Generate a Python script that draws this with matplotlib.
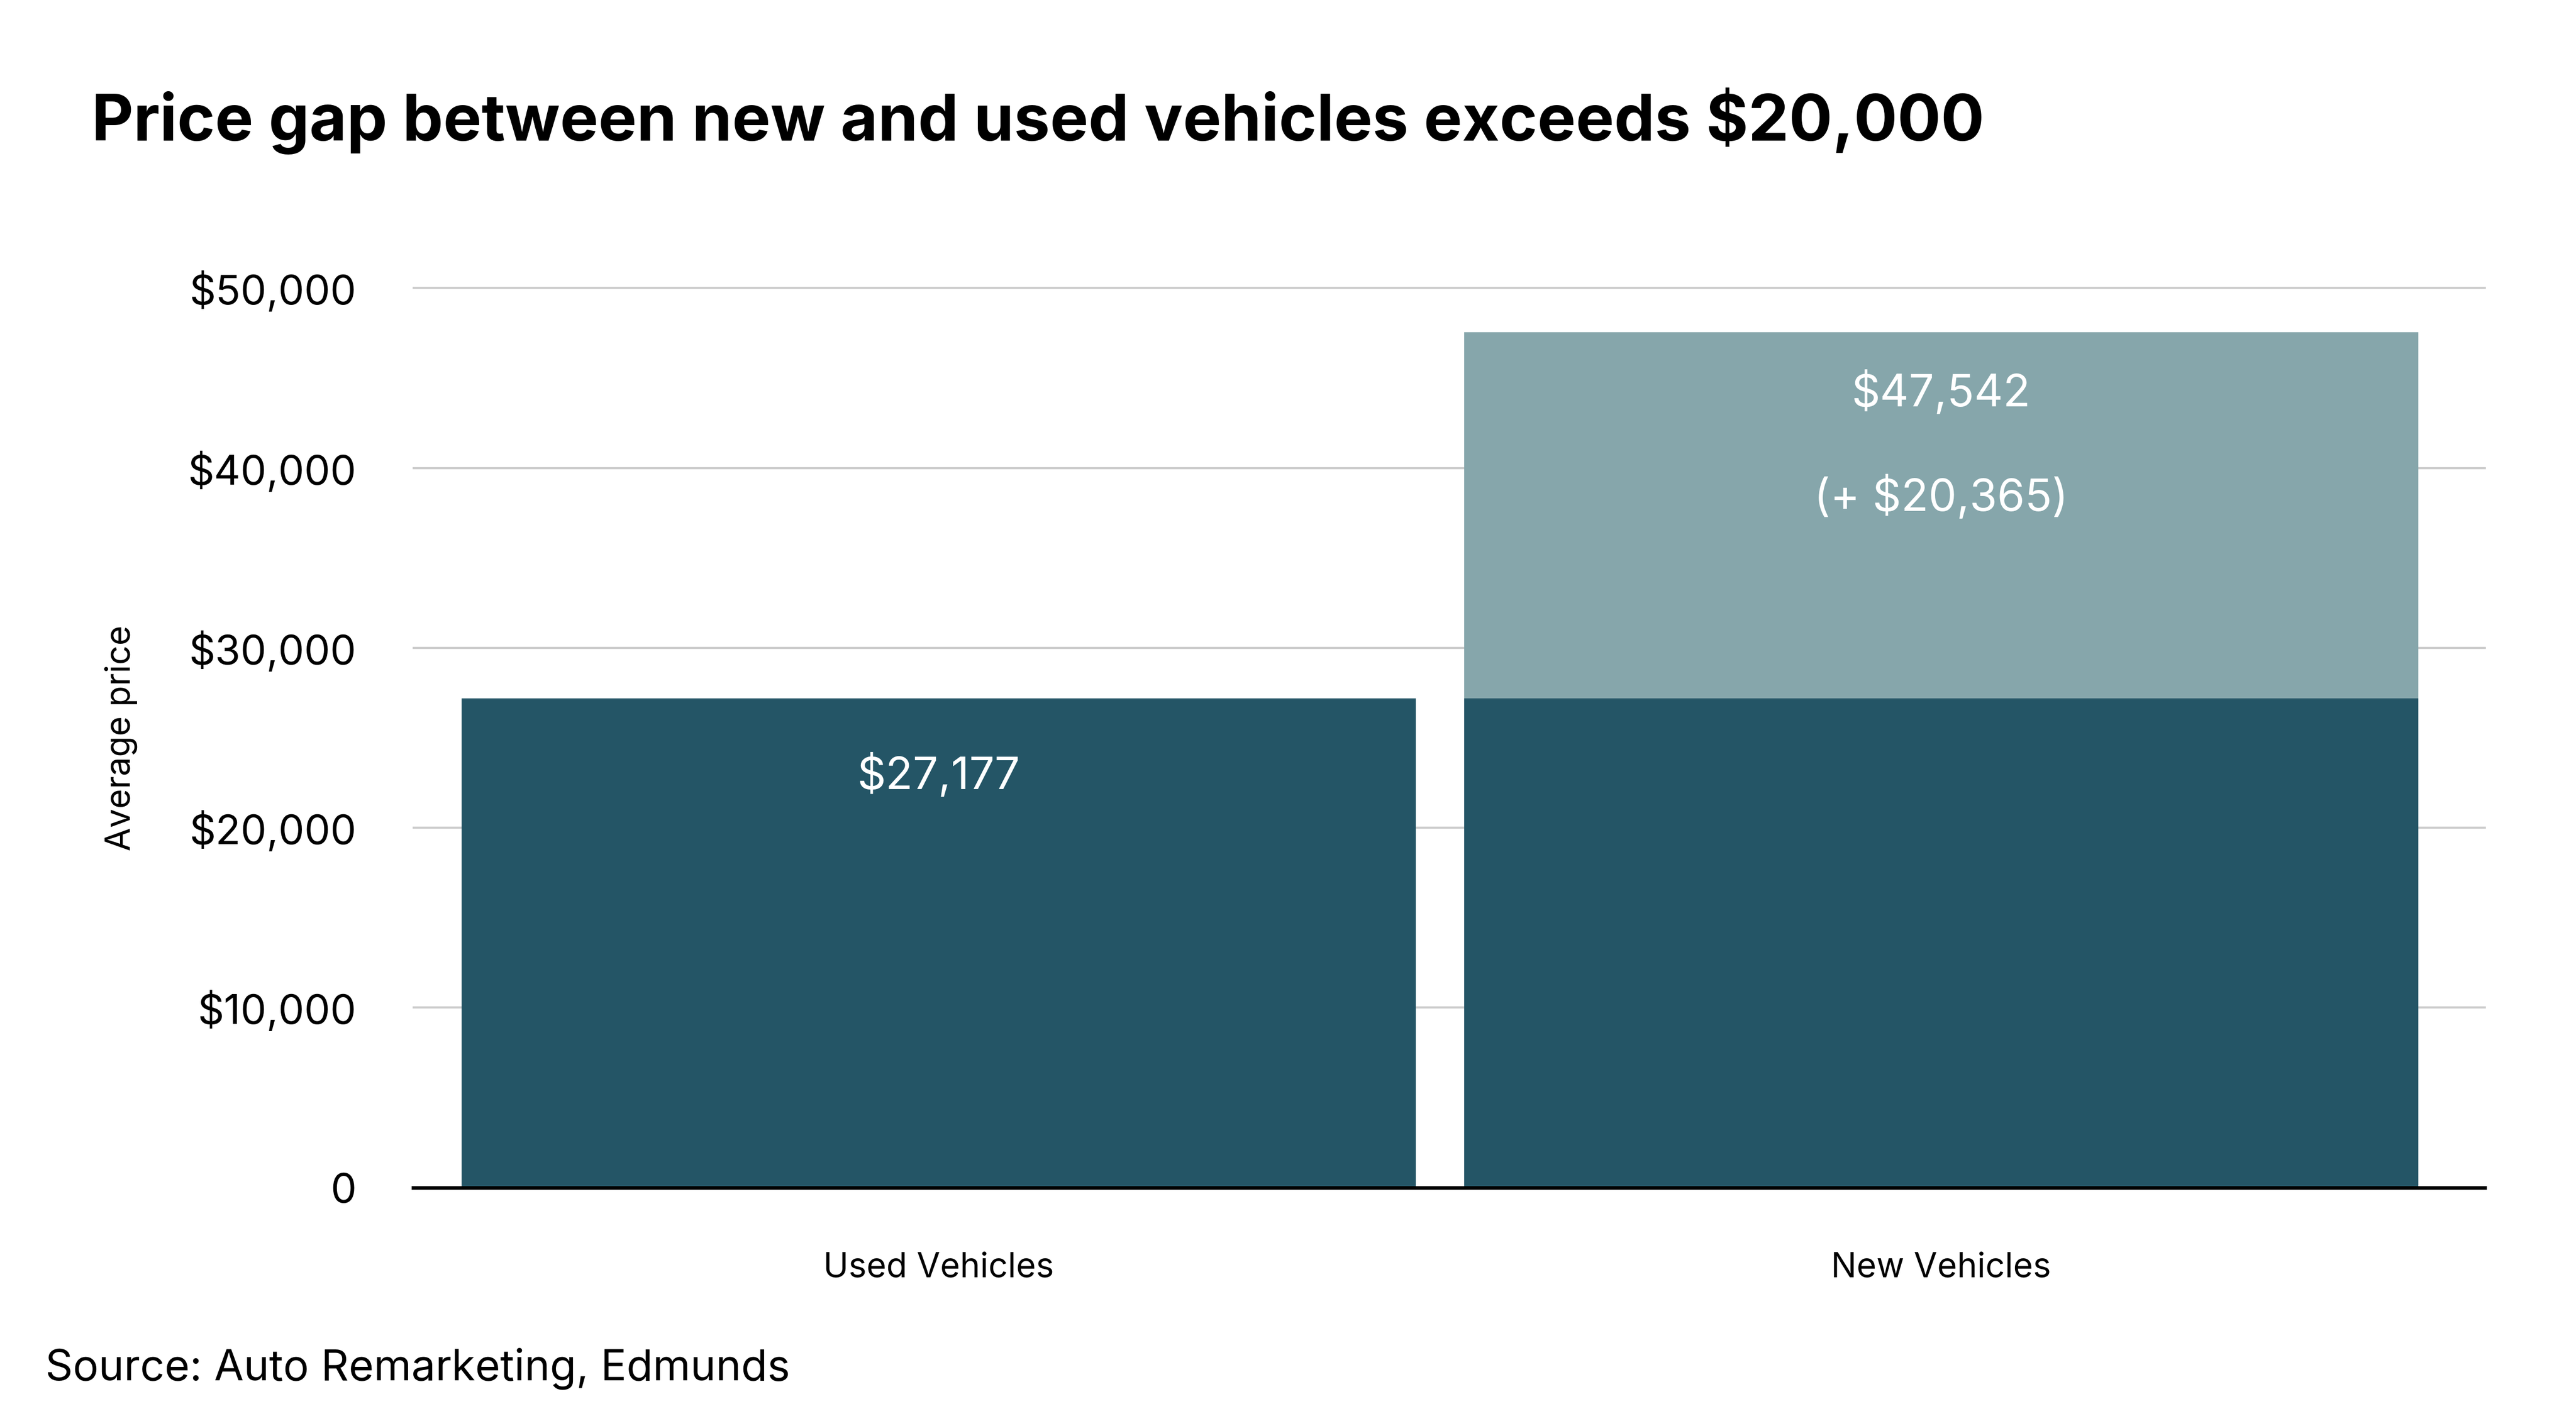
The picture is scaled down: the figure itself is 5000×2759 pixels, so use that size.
# price_gap.py #
# Plots average price of used vs new vehicles.

from matplotlib import pyplot as plt

plt.rcParams['font.family'] = ['Inter', 'DejaVu Sans']

labels = ["Used Vehicles", "New Vehicles"]
used = 27177
new = 47542
gap = new - used

dark = "#245566"
light = "#86a6ab"

plt.figure(figsize=(10, 5.518), dpi=500)
ax = plt.axes([0.1605, 0.1643, 0.804, 0.633])
plt.bar([0, 1], [used, used], width=0.952, color=dark, zorder=2)
plt.bar([1], [gap], bottom=[used], width=0.952, color=light, zorder=2)

plt.text(0, used - 4300, "$27,177", ha="center", va="center", color="white", fontsize=12.5)
plt.text(1, new - 3400, "$47,542", ha="center", va="center", color="white", fontsize=12.5)
plt.text(1, new - 9200, "(+ $20,365)", ha="center", va="center", color="white", fontsize=12.5)

plt.xlim(-0.524, 1.542)
plt.ylim(0, 50000)
plt.xticks([0, 1], labels, fontsize=9.5)
plt.yticks(range(0, 50001, 10000), ["0", "$10,000", "$20,000", "$30,000", "$40,000", "$50,000"], fontsize=11.5)
plt.tick_params(axis="both", length=0)
plt.tick_params(axis="x", pad=18)
plt.tick_params(axis="y", pad=16)
plt.grid(axis="y", color="#cccccc", linewidth=0.6, zorder=0, clip_on=False)
for side in ["top", "right", "left"]:
    ax.spines[side].set_visible(False)
ax.spines["bottom"].set_linewidth(1.0)
ax.spines["bottom"].set_zorder(3)
plt.ylabel("Average price", fontsize=9.5, labelpad=14)

plt.figtext(0.0356, 0.915, "Price gap between new and used vehicles exceeds $20,000",
            fontsize=18, fontweight="bold", va="center")
plt.figtext(0.0175, 0.037, "Source: Auto Remarketing, Edmunds", fontsize=12, va="center")
plt.savefig("out.png")
